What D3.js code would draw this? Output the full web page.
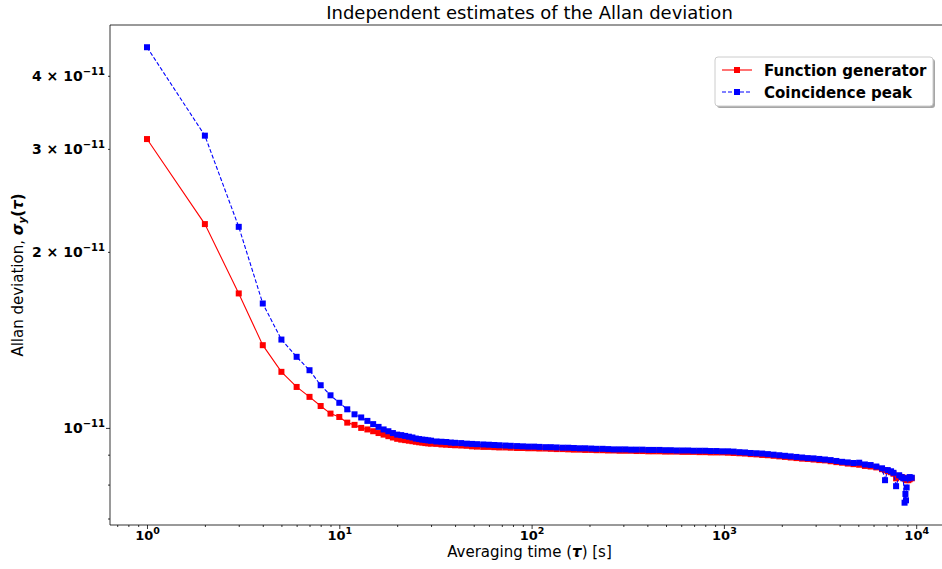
<!DOCTYPE html>
<html><head><meta charset="utf-8">
<script src="https://cdn.jsdelivr.net/npm/d3@7"></script>
<style>
body{margin:0;background:#fff}
svg{display:block}
text{font-family:"DejaVu Sans",sans-serif}
</style>
</head><body>
<svg id="chart" width="942" height="569"></svg>
<script>
// ---------------- data ----------------
const tau = [1,2,3,4,5,6,7,8,9,10,11,12,13,14,15,16,17,18,19,20,21,22,23,24,25,26,27,28,29,30,
  32,34,36,38,40,43,46,49,52,56,60,64,68,73,78,84,90,96,103,110,118,126,135,145,155,
  166,178,190,204,218,234,250,268,287,307,329,352,377,404,432,463,495,530,568,608,
  651,697,746,799,855,916,980,1050,1124,1203,1288,1379,1477,1581,1693,1813,1941,2078,2225,2383,
  2551,2732,2925,3132,3353,3590,3845,4117,4408,4720,5054,5411,5794,6204,6643,
  6886,7113,7400,7616,7860,8155,8400,8570,8700,8790,8850,8920,9100,9250,9480];

// Allan deviation in units of 1e-12
const functionGenerator = [31.18,22.31,16.98,13.85,12.47,11.75,11.30,10.90,10.58,10.44,10.21,10.12,10.00,9.94,9.87,9.80,9.74,9.68,9.63,9.58,9.55,9.53,9.51,9.49,9.47,9.45,9.44,9.42,9.41,9.40,
  9.39,9.37,9.36,9.35,9.34,9.33,9.32,9.30,9.29,9.28,9.28,9.27,9.26,9.26,9.25,9.24,9.24,9.23,9.23,9.22,9.22,9.21,9.20,9.20,9.19,
  9.18,9.18,9.17,9.17,9.16,9.16,9.15,9.15,9.14,9.14,9.14,9.13,9.13,9.12,9.12,9.12,9.11,9.11,9.11,9.10,
  9.10,9.10,9.09,9.09,9.08,9.08,9.08,9.07,9.06,9.05,9.04,9.02,9.01,8.99,8.98,8.96,8.94,8.92,8.90,8.88,
  8.86,8.85,8.83,8.81,8.80,8.77,8.74,8.72,8.69,8.67,8.65,8.61,8.59,8.56,8.50,
  8.47,8.43,8.40,8.35,8.20,8.27,8.24,8.22,8.20,8.17,8.17,8.14,8.14,8.17,8.20];

const coincidencePeak = [44.76,31.60,22.07,16.32,14.16,13.23,12.55,11.83,11.37,11.04,10.76,10.55,10.42,10.28,10.15,10.04,9.94,9.87,9.80,9.74,9.72,9.69,9.66,9.63,9.59,9.57,9.55,9.54,9.52,9.51,
  9.48,9.47,9.46,9.44,9.43,9.42,9.40,9.39,9.38,9.37,9.36,9.35,9.34,9.33,9.32,9.31,9.30,9.29,9.29,9.28,9.27,9.27,9.26,9.25,9.25,
  9.24,9.23,9.23,9.22,9.21,9.21,9.20,9.19,9.19,9.19,9.18,9.18,9.18,9.17,9.17,9.17,9.16,9.16,9.15,9.15,
  9.15,9.14,9.14,9.14,9.13,9.13,9.12,9.12,9.11,9.09,9.08,9.06,9.05,9.04,9.02,9.00,8.98,8.96,8.94,8.92,
  8.90,8.88,8.87,8.85,8.83,8.81,8.78,8.75,8.73,8.71,8.72,8.66,8.64,8.59,8.53,
  8.14,8.47,8.43,8.38,7.95,8.30,8.24,8.20,7.45,7.71,7.52,7.91,8.20,8.24,8.22];

const valueUnit = 1e-12;
const seriesNames = ["Function generator", "Coincidence peak"];
const xMajorTicks = [1, 10, 100, 1000, 10000];
const xTickExponents = ["0", "1", "2", "3", "4"];
const yMajorTicks = [1e-11];
const yLabeledMinorTicks = [2e-11, 3e-11, 4e-11];
const yLabeledMinorMantissa = ["2", "3", "4"];
const yTickExponent = "\u221211";
const yMinorTicks = [7e-12, 8e-12, 9e-12];

// ---------------- layout ----------------
const svg = d3.select("#chart");
const L = 110, R = 949, T = 25, B = 525;

const x = d3.scaleLog().domain([Math.pow(10, -0.1924), Math.pow(10, 4.1706)]).range([L, R]);
const y = d3.scaleLog().domain([Math.pow(10, -11.166), Math.pow(10, -10.3111)]).range([B, T]);

const xMinor = [];
[0.1, 1, 10, 100, 1000, 10000].forEach(dec => {
  for (let m = 2; m <= 9; m++) { const v = m * dec; if (v > x.domain()[0] && v < x.domain()[1]) xMinor.push(v); }
});

svg.append("g").attr("transform", `translate(0,${B})`)
  .call(d3.axisBottom(x).tickValues(xMinor).tickSize(2).tickSizeOuter(0).tickFormat(() => ""));
const gx = svg.append("g").attr("transform", `translate(0,${B})`)
  .call(d3.axisBottom(x).tickValues(xMajorTicks).tickSize(4).tickSizeOuter(0).tickFormat(() => ""));
gx.selectAll(".tick text").each(function (d, i) {
  const t = d3.select(this).attr("y", 15).attr("dy", null)
    .attr("font-size", 13).attr("font-weight", "bold").attr("fill", "#000");
  t.append("tspan").text("10");
  t.append("tspan").attr("dy", -6).attr("font-size", 9.5).text(xTickExponents[i]);
});

const gyMinor = svg.append("g").attr("transform", `translate(${L},0)`)
  .call(d3.axisLeft(y).tickValues(yMinorTicks.concat(yLabeledMinorTicks)).tickSize(2).tickSizeOuter(0).tickFormat(() => ""));
const gy = svg.append("g").attr("transform", `translate(${L},0)`)
  .call(d3.axisLeft(y).tickValues(yMajorTicks).tickSize(4).tickSizeOuter(0).tickFormat(() => ""));

function yLabel(sel, mant) {
  sel.attr("x", -5).attr("dy", "0.36em").attr("font-size", 14).attr("font-weight", "bold")
    .attr("fill", "#000").attr("text-anchor", "end");
  sel.append("tspan").text(mant ? mant + "\u00a0\u00d7\u00a010" : "10");
  sel.append("tspan").attr("dy", -6.5).attr("font-size", 10).text(yTickExponent);
}
gy.selectAll(".tick text").each(function () { yLabel(d3.select(this), ""); });
gyMinor.selectAll(".tick").each(function (d) {
  const k = yLabeledMinorTicks.indexOf(d);
  if (k >= 0) yLabel(d3.select(this).select("text"), yLabeledMinorMantissa[k]);
});

svg.selectAll(".domain").remove();
svg.selectAll(".tick line").attr("stroke", "#000").attr("stroke-width", 0.8);

svg.append("path").attr("d", `M${R},${T}H${L}V${B}H${R}Z`).attr("fill", "none")
  .attr("stroke", "#000").attr("stroke-width", 0.8);

// ---------------- series ----------------
const series = [
  { name: seriesNames[0], vals: functionGenerator, color: "#ff0000", dash: null },
  { name: seriesNames[1], vals: coincidencePeak, color: "#0000ff", dash: "4,2" }
];
const ms = 6;
const line = d3.line().x(d => x(d[0])).y(d => y(d[1]));
series.forEach(s => {
  const pts = tau.map((t, i) => [t, s.vals[i] * valueUnit]);
  const g = svg.append("g");
  g.append("path").datum(pts).attr("d", line).attr("fill", "none")
    .attr("stroke", s.color).attr("stroke-width", 1.1).attr("stroke-dasharray", s.dash);
  g.selectAll("rect").data(pts).join("rect")
    .attr("x", d => x(d[0]) - ms / 2).attr("y", d => y(d[1]) - ms / 2)
    .attr("width", ms).attr("height", ms).attr("fill", s.color);
});

// ---------------- text ----------------
svg.append("text").attr("x", (L + R) / 2).attr("y", 19).attr("text-anchor", "middle")
  .attr("font-size", 18).attr("fill", "#000").text("Independent estimates of the Allan deviation");

const xl = svg.append("text").attr("x", (L + R) / 2).attr("y", 557).attr("text-anchor", "middle")
  .attr("font-size", 15).attr("fill", "#000");
xl.append("tspan").text("Averaging time (");
xl.append("tspan").attr("font-weight", "bold").attr("font-style", "italic").text("\u03c4");
xl.append("tspan").text(") [s]");

const yl = svg.append("text").attr("transform", `translate(23,${(T + B) / 2}) rotate(-90)`)
  .attr("text-anchor", "middle").attr("font-size", 15).attr("fill", "#000");
yl.append("tspan").text("Allan deviation, ");
yl.append("tspan").attr("font-weight", "bold").attr("font-style", "italic").text("\u03c3");
yl.append("tspan").attr("font-weight", "bold").attr("font-style", "italic").attr("font-size", 10.5).attr("dy", 3).text("y");
yl.append("tspan").attr("font-weight", "bold").attr("dy", -3).text("(");
yl.append("tspan").attr("font-weight", "bold").attr("font-style", "italic").text("\u03c4");
yl.append("tspan").attr("font-weight", "bold").text(")");

// ---------------- legend ----------------
const lg = svg.append("g").attr("transform", "translate(715,57)");
lg.append("rect").attr("x", 2).attr("y", 2).attr("width", 218).attr("height", 49).attr("rx", 3)
  .attr("fill", "#000").attr("opacity", 0.35);
lg.append("rect").attr("width", 218).attr("height", 49).attr("rx", 3)
  .attr("fill", "#fff").attr("stroke", "#cccccc").attr("stroke-width", 1);
series.forEach((s, i) => {
  const yy = 13 + i * 22;
  lg.append("line").attr("x1", 7).attr("x2", 37).attr("y1", yy).attr("y2", yy)
    .attr("stroke", s.color).attr("stroke-width", 1.1).attr("stroke-dasharray", s.dash);
  lg.append("rect").attr("x", 22 - ms / 2).attr("y", yy - ms / 2).attr("width", ms).attr("height", ms).attr("fill", s.color);
  lg.append("text").attr("x", 49).attr("y", yy + 5.5).attr("font-size", 15).attr("font-weight", "bold")
    .attr("fill", "#000").text(s.name);
});
</script>
</body></html>
